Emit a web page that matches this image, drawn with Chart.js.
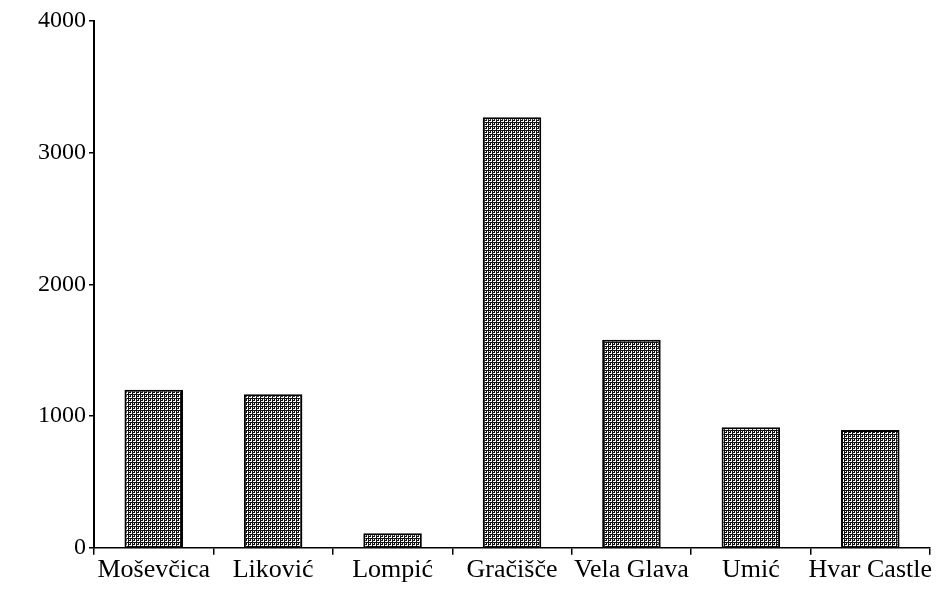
<!DOCTYPE html>
<html>
<head>
<meta charset="utf-8">
<script src="https://cdn.jsdelivr.net/npm/chart.js@4"></script>
<style>
  html, body { margin: 0; padding: 0; background: #fff; }
  #wrap { width: 936px; height: 594px; }
</style>
</head>
<body>
<div id="wrap"><canvas id="chart" width="936" height="594"></canvas></div>
<script>
// sites along the x axis
var sites  = ['Moševčica', 'Liković', 'Lompić', 'Gračišče', 'Vela Glava', 'Umić', 'Hvar Castle'];
// bar heights
var counts = [1200, 1165, 110, 3270, 1580, 915, 895];
// y axis ticks
var yTicks = [0, 1000, 2000, 3000, 4000];

// dithered grey fill, like the old printout
function ditherPattern() {
  var c = document.createElement('canvas');
  c.width = 4; c.height = 4;
  var g = c.getContext('2d');
  g.fillStyle = '#ffffff';
  g.fillRect(0, 0, 4, 4);
  g.fillStyle = '#111111';
  g.fillRect(0, 0, 1, 4);            // solid vertical stroke
  g.fillRect(2, 0, 1, 4);            // second stroke, broken below
  g.fillStyle = '#ffffff';
  g.fillRect(2, 1, 1, 1);
  g.fillStyle = '#111111';
  g.fillRect(3, 2, 1, 1);
  g.fillRect(1, 0, 1, 1);
  g.fillRect(1, 2, 1, 1);
  return g.createPattern(c, 'repeat');
}

var serif = '"Liberation Serif", "DejaVu Serif", serif';

new Chart(document.getElementById('chart'), {
  type: 'bar',
  data: {
    labels: sites,
    datasets: [{
      data: counts,
      backgroundColor: ditherPattern(),
      borderColor: '#000',
      borderWidth: 2,
      borderSkipped: 'bottom',
      categoryPercentage: 1,
      barPercentage: 0.49
    }]
  },
  options: {
    responsive: false,
    animation: false,
    devicePixelRatio: 1,
    layout: { padding: { top: 21, right: 6, bottom: 8, left: 0 } },
    plugins: { legend: { display: false }, tooltip: { enabled: false } },
    scales: {
      x: {
        offset: true,
        grid: { offset: true, drawOnChartArea: false, color: '#000', tickLength: 7, lineWidth: 1.5 },
        border: { color: '#000', width: 1.5 },
        ticks: { color: '#000', font: { family: serif, size: 26 }, padding: 0, maxRotation: 0, autoSkip: false }
      },
      y: {
        min: 0,
        max: 4000,
        afterFit: function (axis) { axis.width = 94; },
        afterBuildTicks: function (axis) {
          axis.ticks = yTicks.map(function (v) { return { value: v }; });
        },
        grid: { drawOnChartArea: false, color: '#000', tickLength: 5, lineWidth: 1.5 },
        border: { color: '#000', width: 2 },
        ticks: {
          color: '#000', font: { family: serif, size: 24 }, padding: 3,
          callback: function (v) { return String(v); }
        }
      }
    }
  }
});
</script>
</body>
</html>
